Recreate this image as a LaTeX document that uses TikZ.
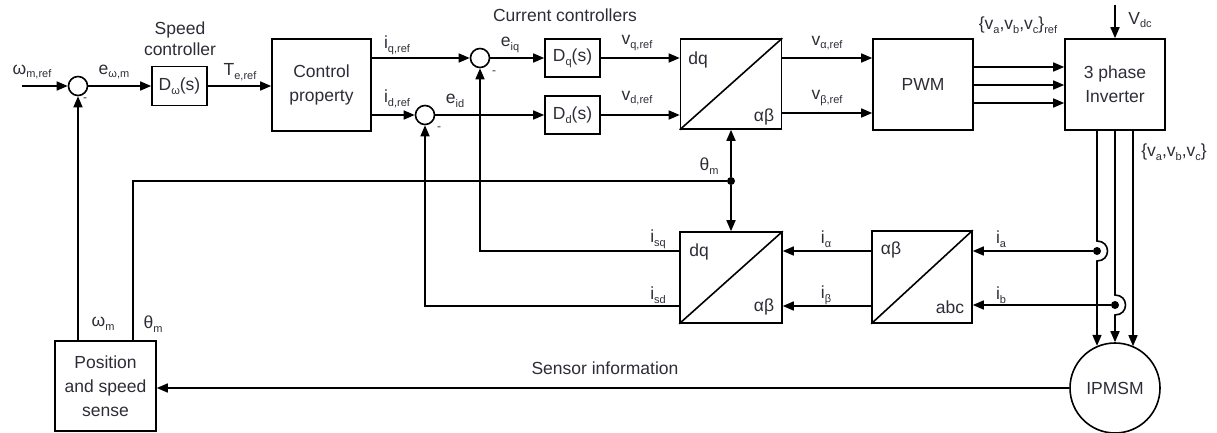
\documentclass[tikz,border=0pt]{standalone}
\usepackage{fontspec}
\setmainfont{Liberation Sans}
\usetikzlibrary{arrows.meta}
\definecolor{txt}{RGB}{45,45,55}
\newcommand\sbs[1]{\raisebox{-0.4ex}{\fontsize{11}{11}\selectfont #1}}
\tikzset{
  line/.style={line width=1.6pt, draw=black},
  arr/.style={line, -{Triangle[length=11pt,width=9pt]}},
  blk/.style={draw, line width=1.6pt, rectangle, inner sep=0pt, align=center, text=txt, font=\fontsize{17.5}{24}\selectfont},
  sumc/.style={draw, circle, line width=1.6pt, minimum size=19pt, inner sep=0pt},
  lbl/.style={text=txt, font=\fontsize{17.5}{21}\selectfont, inner sep=0pt, align=center},
  dotn/.style={circle, fill=black, minimum size=8pt, inner sep=0pt},
}
\begin{document}
\begin{tikzpicture}[x=1pt,y=-1pt]
\useasboundingbox (0,0) rectangle (1217,433);
% blocks
\node[sumc] (sum1) at (78,86) {};
\node[blk, minimum width=55pt, minimum height=39pt] (Dw) at (179.5,86) {D\sbs{ω}(s)};
\node[blk, minimum width=99pt, minimum height=92pt] (ctrl) at (321.5,85) {Control\\property};
\node[sumc] (sumq) at (480,58) {};
\node[sumc] (sumd) at (425,115) {};
\node[blk, minimum width=55pt, minimum height=38pt] (Dq) at (572.5,58) {D\sbs{q}(s)};
\node[blk, minimum width=55pt, minimum height=38pt] (Dd) at (572.5,115) {D\sbs{d}(s)};
\node[blk, minimum width=101pt, minimum height=90pt] (T1) at (731,84) {};
\node[blk, minimum width=100pt, minimum height=91pt] (PWM) at (923,84.5) {PWM};
\node[blk, minimum width=100pt, minimum height=91pt] (inv) at (1115,84.5) {3 phase\\Inverter};
\node[blk, minimum width=102pt, minimum height=91pt] (T2) at (731,277.5) {};
\node[blk, minimum width=100pt, minimum height=92pt] (T3) at (922,277) {};
\node[blk, circle, minimum size=90pt] (mot) at (1115,388) {IPMSM};
\node[blk, minimum width=101pt, minimum height=90pt] (pos) at (105.5,386) {Position\\and speed\\sense};
% diagonals
\draw[line] (T1.south west) -- (T1.north east);
\draw[line] (T2.south west) -- (T2.north east);
\draw[line] (T3.south west) -- (T3.north east);
% coordinates
\coordinate (in) at (22,86);
\coordinate (vdc) at (1115,5);
\coordinate (r67) at (0,67);
\coordinate (r85) at (0,85);
\coordinate (r103) at (0,103);
\coordinate (rb) at (0,113);
\coordinate (ra) at (0,251);
\coordinate (rs) at (0,306);
\coordinate (thx) at (133,0);
\coordinate (ia) at (1097,251);
\coordinate (ib) at (1115,305);
\coordinate (ic) at (1133,0);
\coordinate (thd) at (731,181);
% forward path
\draw[arr] (in) -- (sum1.west);
\draw[arr] (sum1.east) -- (Dw.west);
\draw[arr] (Dw.east) -- (ctrl.west |- Dw.east);
\draw[arr] (ctrl.east |- sumq) -- (sumq.west);
\draw[arr] (ctrl.east |- sumd) -- (sumd.west);
\draw[arr] (sumq.east) -- (Dq.west);
\draw[arr] (sumd.east) -- (Dd.west);
\draw[arr] (Dq.east) -- (T1.west |- Dq.east);
\draw[arr] (Dd.east) -- (T1.west |- Dd.east);
\draw[arr] (T1.east |- Dq) -- (PWM.west |- Dq);
\draw[arr] (T1.east |- rb) -- (PWM.west |- rb);
\draw[arr] (PWM.east |- r67) -- (inv.west |- r67);
\draw[arr] (PWM.east |- r85) -- (inv.west |- r85);
\draw[arr] (PWM.east |- r103) -- (inv.west |- r103);
\draw[arr] (vdc) -- (inv.north);
% inverter to motor
\draw[arr] (inv.south -| ia) -- (1097,241) .. controls (1111,241) and (1111,261) .. (1097,261) -- (ia |- mot.113.6);
\draw[arr] (inv.south) -- (1115,295) .. controls (1129,295) and (1129,315) .. (1115,315) -- (mot.north);
\draw[arr] (inv.south -| ic) -- (ic |- mot.66.4);
\node[dotn] (da) at (ia) {};
\node[dotn] (db) at (ib) {};
% current measurement
\draw[arr] (da) -- (T3.east |- da);
\draw[arr] (db) -- (T3.east |- db);
\draw[arr] (T3.west |- ra) -- (T2.east |- ra);
\draw[arr] (T3.west |- rs) -- (T2.east |- rs);
\draw[arr] (T2.west |- ra) -- (sumq |- ra) -- (sumq.south);
\draw[arr] (T2.west |- rs) -- (sumd |- rs) -- (sumd.south);
% theta and omega
\node[dotn] (dth) at (thd) {};
\draw[line] (pos.north -| thx) -- (thx |- thd) -- (dth);
\draw[arr] (dth) -- (dth |- T1.south);
\draw[arr] (dth) -- (dth |- T2.north);
\draw[arr] (pos.north -| sum1) -- (sum1.south);
\draw[arr] (mot.west) -- (pos.east |- mot.west);
% labels
\node[lbl] at (32,72) {ω\sbs{m,ref}};
\node[lbl, font=\fontsize{12}{12}\selectfont] at (85,100) {-};
\node[lbl, font=\fontsize{12}{12}\selectfont] at (494,73) {-};
\node[lbl, font=\fontsize{12}{12}\selectfont] at (439,129) {-};
\node[lbl] at (114,72) {e\sbs{ω,m}};
\node[lbl] at (180,39) {Speed\\controller};
\node[lbl] at (240,72) {T\sbs{e,ref}};
\node[lbl] at (397,45) {i\sbs{q,ref}};
\node[lbl] at (397,99) {i\sbs{d,ref}};
\node[lbl] at (510,45) {e\sbs{iq}};
\node[lbl] at (455,101) {e\sbs{id}};
\node[lbl] at (565,15) {Current controllers};
\node[lbl] at (637,43) {v\sbs{q,ref}};
\node[lbl] at (637,98) {v\sbs{d,ref}};
\node[lbl] at (698,60) {dq};
\node[lbl] at (764,117) {αβ};
\node[lbl] at (827,43) {v\sbs{α,ref}};
\node[lbl] at (827,98) {v\sbs{β,ref}};
\node[lbl] at (1018,25) {\{v\sbs{a},v\sbs{b},v\sbs{c}\}\sbs{ref}};
\node[lbl] at (1140,20) {V\sbs{dc}};
\node[lbl] at (1174,152) {\{v\sbs{a},v\sbs{b},v\sbs{c}\}};
\node[lbl] at (709,166) {θ\sbs{m}};
\node[lbl] at (658,239) {i\sbs{sq}};
\node[lbl] at (658,295) {i\sbs{sd}};
\node[lbl] at (699,252) {dq};
\node[lbl] at (764,307) {αβ};
\node[lbl] at (826,239) {i\sbs{α}};
\node[lbl] at (826,295) {i\sbs{β}};
\node[lbl] at (891,250) {αβ};
\node[lbl] at (950,307) {abc};
\node[lbl] at (1001,239) {i\sbs{a}};
\node[lbl] at (1001,295) {i\sbs{b}};
\node[lbl] at (103,324) {ω\sbs{m}};
\node[lbl] at (153,324) {θ\sbs{m}};
\node[lbl] at (605,368) {Sensor information};
\end{tikzpicture}
\end{document}
